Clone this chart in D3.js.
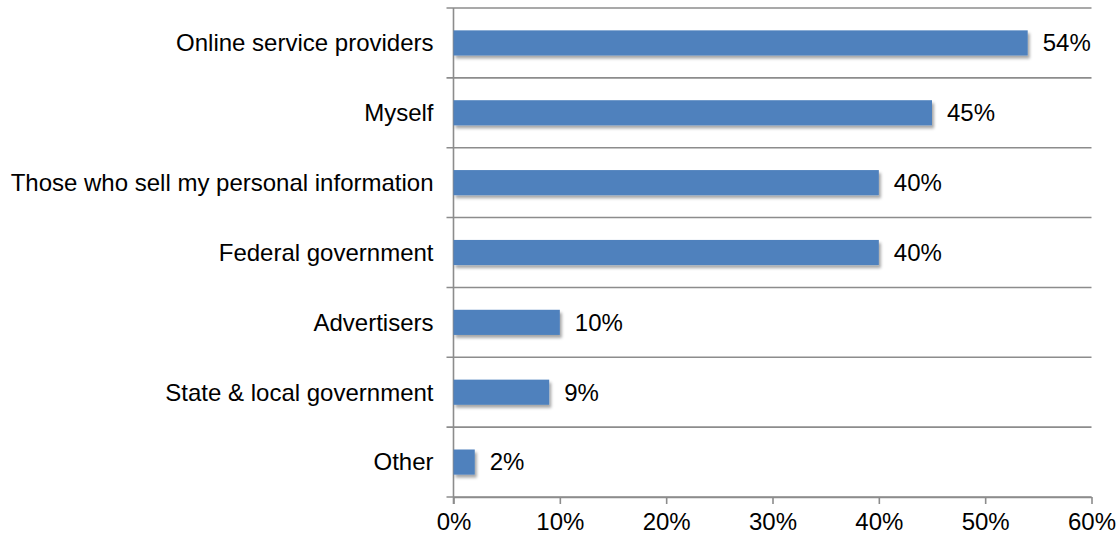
<!DOCTYPE html>
<html>
<head>
<meta charset="utf-8">
<script src="https://cdn.jsdelivr.net/npm/d3@7"></script>
<style>
  html, body { margin: 0; padding: 0; background: #fff; }
  svg { display: block; font-family: "Liberation Sans", Arial, Helvetica, sans-serif; }
</style>
</head>
<body>
<svg id="chart" width="1120" height="537"></svg>
<script>
// Who is responsible for protecting personal information online
const categories = [
  "Online service providers",
  "Myself",
  "Those who sell my personal information",
  "Federal government",
  "Advertisers",
  "State & local government",
  "Other"
];
const values = [54, 45, 40, 40, 10, 9, 2];
const xTicks = [0, 10, 20, 30, 40, 50, 60];

const svg = d3.select("#chart");
const margin = { top: 8, right: 28.5, bottom: 40, left: 453.5 };
const W = 1120, H = 537;
const x0 = margin.left, x1 = W - margin.right;
const y0 = margin.top, y1 = H - margin.bottom;

const x = d3.scaleLinear().domain([0, 60]).range([x0, x1]);
const y = d3.scaleBand().domain(categories).range([y0, y1])
  .paddingInner(0.64).paddingOuter(0.32);

const fontSize = 24;
const lineColor = "#8c8c8c";

// soft drop shadow under the bars
const defs = svg.append("defs");
const f = defs.append("filter").attr("id", "shadow")
  .attr("x", "-10%").attr("y", "-30%").attr("width", "130%").attr("height", "180%");
f.append("feDropShadow").attr("dx", 2).attr("dy", 3)
  .attr("stdDeviation", 1.6).attr("flood-color", "#000").attr("flood-opacity", 0.35);

// horizontal separators at category boundaries (with short outer ticks)
const boundaries = d3.range(categories.length + 1).map(i => y0 + i * (y1 - y0) / categories.length);
svg.append("g").selectAll("line").data(boundaries).join("line")
  .attr("x1", x0 - 7).attr("x2", x1)
  .attr("y1", d => d).attr("y2", d => d)
  .attr("stroke", lineColor).attr("stroke-width", 1.6);

// vertical axis line
svg.append("line")
  .attr("x1", x0).attr("x2", x0).attr("y1", y0).attr("y2", y1 + 7)
  .attr("stroke", lineColor).attr("stroke-width", 1.6);

// bottom axis
const xAxis = d3.axisBottom(x).tickValues(xTicks).tickSize(7).tickSizeOuter(0)
  .tickFormat(d => d + "%").tickPadding(9);
const gx = svg.append("g").attr("transform", `translate(0,${y1})`).call(xAxis);
gx.select(".domain").attr("stroke", lineColor).attr("stroke-width", 1.6);
gx.selectAll(".tick line").attr("stroke", lineColor).attr("stroke-width", 1.6);
gx.selectAll(".tick text").attr("fill", "#000").attr("font-size", fontSize)
  .attr("font-family", "Liberation Sans, Arial, sans-serif");

// bars
svg.append("g").selectAll("rect").data(values).join("rect")
  .attr("x", x(0))
  .attr("y", (d, i) => y(categories[i]))
  .attr("width", d => x(d) - x(0))
  .attr("height", y.bandwidth())
  .attr("fill", "#4f81bd")
  .attr("filter", "url(#shadow)");

// value labels
svg.append("g").selectAll("text").data(values).join("text")
  .attr("x", d => x(d) + 15)
  .attr("y", (d, i) => y(categories[i]) + y.bandwidth() / 2)
  .attr("dy", "0.35em")
  .attr("font-size", fontSize)
  .attr("fill", "#000")
  .text(d => d + "%");

// category labels
svg.append("g").selectAll("text").data(categories).join("text")
  .attr("x", x0 - 20)
  .attr("y", d => y(d) + y.bandwidth() / 2)
  .attr("dy", "0.35em")
  .attr("text-anchor", "end")
  .attr("font-size", fontSize)
  .attr("fill", "#000")
  .text(d => d);
</script>
</body>
</html>
